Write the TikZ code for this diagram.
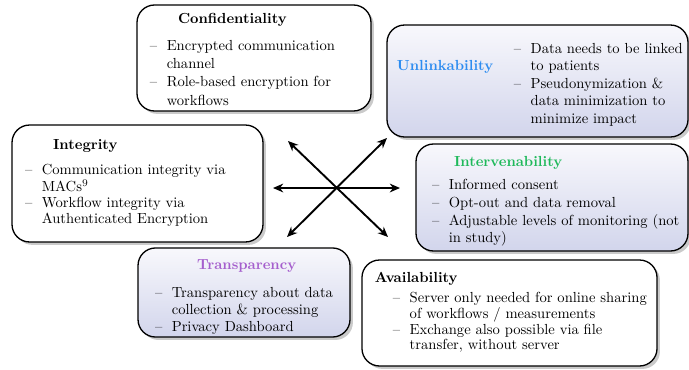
\documentclass[tikz,border=0pt]{standalone}
\usetikzlibrary{shadows,arrows.meta}

\definecolor{unlinkblue}{RGB}{45,140,240}
\definecolor{intervgreen}{RGB}{30,185,90}
\definecolor{transpurple}{RGB}{165,95,205}
\definecolor{boxtop}{RGB}{248,248,252}
\definecolor{boxbottom}{RGB}{210,213,236}

\newcommand{\itm}{\makebox[11.5pt][l]{--}}
\newcommand{\itmskip}{\hspace*{11.5pt}}
\newcommand{\boxhead}[2][black]{\textbf{\color{#1}#2}}
\newcommand{\boxbody}[3]{\makebox[#1][l]{\renewcommand{\arraystretch}{#2}\begin{tabular}{@{}l@{}}#3\end{tabular}}}
\newcommand{\lowered}[2]{\raisebox{-#1}[\height][\depth]{#2}}

\tikzset{
  propbox/.style={draw=black, line width=0.9pt, rounded corners=12pt, inner sep=0pt,
    drop shadow={shadow xshift=2pt, shadow yshift=-2pt, opacity=0.35, fill=black!60}},
  plainbox/.style={propbox, fill=white},
  shadedbox/.style={propbox, top color=boxtop, bottom color=boxbottom},
  privarrow/.style={{Stealth[length=7pt,width=6pt]}-{Stealth[length=7pt,width=6pt]}, line width=1.3pt}
}

\begin{document}
\begin{tikzpicture}[x=0.685pt, y=-0.685pt]
\useasboundingbox (0,0) rectangle (689,369);

% goals
\node[plainbox, minimum width=160.3pt, minimum height=72.6pt] (conf) at (254,58)
  {\lowered{2pt}{\boxbody{142.5pt}{1.055}{\hspace*{19.2pt}\boxhead{Confidentiality}\\[5.3pt]
   \itm Encrypted communication\\ \itmskip channel\\
   \itm Role-based encryption for\\ \itmskip workflows}}};

\node[shadedbox, minimum width=206.2pt, minimum height=76.7pt] (unlink) at (537.5,81)
  {\lowered{2.7pt}{\makebox[192.5pt][l]{\begin{tabular}{@{}p{80.1pt}@{}l@{}}
   & \itm Data needs to be linked\\
   \boxhead[unlinkblue]{Unlinkability} & \itmskip to patients\\
   & \itm Pseudonymization \&\\
   & \itmskip data minimization to\\
   & \itmskip minimize impact
   \end{tabular}}}};

\node[plainbox, minimum width=171.9pt, minimum height=80.1pt] (integ) at (137.5,183.5)
  {\boxbody{154.1pt}{0.915}{\hspace*{19.2pt}\boxhead{Integrity}\\[6pt]
   \itm Communication integrity via\\ \itmskip MACs\textsuperscript{9}\\
   \itm Workflow integrity via\\ \itmskip Authenticated Encryption}};

\node[shadedbox, minimum width=186.3pt, minimum height=73.3pt] (interv) at (552,197.5)
  {\lowered{2.4pt}{\boxbody{164.4pt}{1.02}{\hspace*{15.1pt}\boxhead[intervgreen]{Intervenability}\\[3.5pt]
   \itm Informed consent\\ \itm Opt-out and data removal\\
   \itm Adjustable levels of monitoring (not\\ \itmskip in study)}}};

\node[shadedbox, minimum width=145.2pt, minimum height=61pt] (transp) at (244,292.5)
  {\lowered{3pt}{\boxbody{121.9pt}{0.98}{\hspace*{28.8pt}\boxhead[transpurple]{Transparency}\\[7.5pt]
   \itm Transparency about data\\ \itmskip collection \& processing\\
   \itm Privacy Dashboard}}};

\node[plainbox, minimum width=202.1pt, minimum height=72.6pt] (avail) at (509.5,313)
  {\boxbody{184.3pt}{0.9}{\boxhead{Availability}\\[3pt]
   \hspace*{12.3pt}\itm Server only needed for online sharing\\
   \hspace*{12.3pt}\itmskip of workflows / measurements\\
   \hspace*{12.3pt}\itm Exchange also possible via file\\
   \hspace*{12.3pt}\itmskip transfer, without server}};

% arrows
\coordinate (tipW) at (273,188);
\coordinate (tipE) at (400,188);
\coordinate (tipNW) at (288,141);
\coordinate (tipSE) at (388,237);
\coordinate (tipNE) at (387,138);
\coordinate (tipSW) at (287,237);
\draw[privarrow] (tipW) -- (tipE);
\draw[privarrow] (tipNW) -- (tipSE);
\draw[privarrow] (tipNE) -- (tipSW);
\end{tikzpicture}
\end{document}
